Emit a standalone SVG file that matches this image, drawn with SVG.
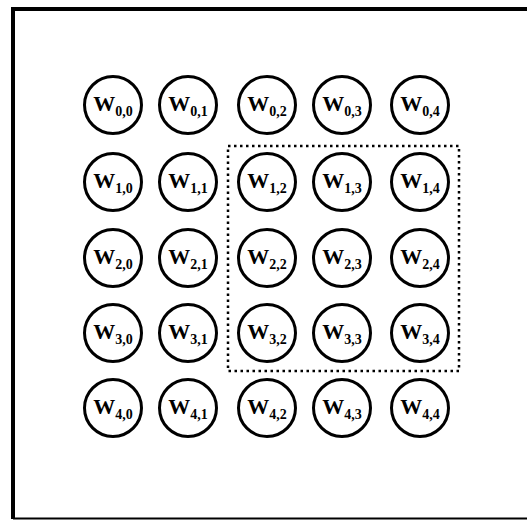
<svg xmlns="http://www.w3.org/2000/svg" width="527" height="520" viewBox="0 0 527 520">
<style>
.n circle{fill:#fff;stroke:#000;stroke-width:3}
.n text{font-family:"Liberation Serif","Times New Roman",serif;font-weight:bold;font-size:22px;text-anchor:middle;fill:#000}
.n tspan{font-size:14px}
</style>
<rect width="527" height="520" fill="#fff"/>
<g id="frame"><path d="M13,519 L13,9 L530,9" fill="none" stroke="#000" stroke-width="4"/><path d="M13,518.5 L530,518.5" fill="none" stroke="#000" stroke-width="2"/></g>
<g id="connectors"><rect id="window" x="228" y="146" width="231" height="225" fill="none" stroke="#000" stroke-width="2.5" stroke-dasharray="2.5 3.5"/></g>
<g id="W00" class="n"><circle cx="113" cy="105" r="28.5"/><text x="113" y="111">W<tspan dy="5">0,0</tspan></text></g>
<g id="W01" class="n"><circle cx="188" cy="105" r="28.5"/><text x="188" y="111">W<tspan dy="5">0,1</tspan></text></g>
<g id="W02" class="n"><circle cx="267" cy="105" r="28.5"/><text x="267" y="111">W<tspan dy="5">0,2</tspan></text></g>
<g id="W03" class="n"><circle cx="342" cy="105" r="28.5"/><text x="342" y="111">W<tspan dy="5">0,3</tspan></text></g>
<g id="W04" class="n"><circle cx="420" cy="105" r="28.5"/><text x="420" y="111">W<tspan dy="5">0,4</tspan></text></g>
<g id="W10" class="n"><circle cx="113" cy="182" r="28.5"/><text x="113" y="188">W<tspan dy="5">1,0</tspan></text></g>
<g id="W11" class="n"><circle cx="188" cy="182" r="28.5"/><text x="188" y="188">W<tspan dy="5">1,1</tspan></text></g>
<g id="W12" class="n"><circle cx="267" cy="182" r="28.5"/><text x="267" y="188">W<tspan dy="5">1,2</tspan></text></g>
<g id="W13" class="n"><circle cx="342" cy="182" r="28.5"/><text x="342" y="188">W<tspan dy="5">1,3</tspan></text></g>
<g id="W14" class="n"><circle cx="420" cy="182" r="28.5"/><text x="420" y="188">W<tspan dy="5">1,4</tspan></text></g>
<g id="W20" class="n"><circle cx="113" cy="258" r="28.5"/><text x="113" y="264">W<tspan dy="5">2,0</tspan></text></g>
<g id="W21" class="n"><circle cx="188" cy="258" r="28.5"/><text x="188" y="264">W<tspan dy="5">2,1</tspan></text></g>
<g id="W22" class="n"><circle cx="267" cy="258" r="28.5"/><text x="267" y="264">W<tspan dy="5">2,2</tspan></text></g>
<g id="W23" class="n"><circle cx="342" cy="258" r="28.5"/><text x="342" y="264">W<tspan dy="5">2,3</tspan></text></g>
<g id="W24" class="n"><circle cx="420" cy="258" r="28.5"/><text x="420" y="264">W<tspan dy="5">2,4</tspan></text></g>
<g id="W30" class="n"><circle cx="113" cy="333" r="28.5"/><text x="113" y="339">W<tspan dy="5">3,0</tspan></text></g>
<g id="W31" class="n"><circle cx="188" cy="333" r="28.5"/><text x="188" y="339">W<tspan dy="5">3,1</tspan></text></g>
<g id="W32" class="n"><circle cx="267" cy="333" r="28.5"/><text x="267" y="339">W<tspan dy="5">3,2</tspan></text></g>
<g id="W33" class="n"><circle cx="342" cy="333" r="28.5"/><text x="342" y="339">W<tspan dy="5">3,3</tspan></text></g>
<g id="W34" class="n"><circle cx="420" cy="333" r="28.5"/><text x="420" y="339">W<tspan dy="5">3,4</tspan></text></g>
<g id="W40" class="n"><circle cx="113" cy="408" r="28.5"/><text x="113" y="414">W<tspan dy="5">4,0</tspan></text></g>
<g id="W41" class="n"><circle cx="188" cy="408" r="28.5"/><text x="188" y="414">W<tspan dy="5">4,1</tspan></text></g>
<g id="W42" class="n"><circle cx="267" cy="408" r="28.5"/><text x="267" y="414">W<tspan dy="5">4,2</tspan></text></g>
<g id="W43" class="n"><circle cx="342" cy="408" r="28.5"/><text x="342" y="414">W<tspan dy="5">4,3</tspan></text></g>
<g id="W44" class="n"><circle cx="420" cy="408" r="28.5"/><text x="420" y="414">W<tspan dy="5">4,4</tspan></text></g>
</svg>
